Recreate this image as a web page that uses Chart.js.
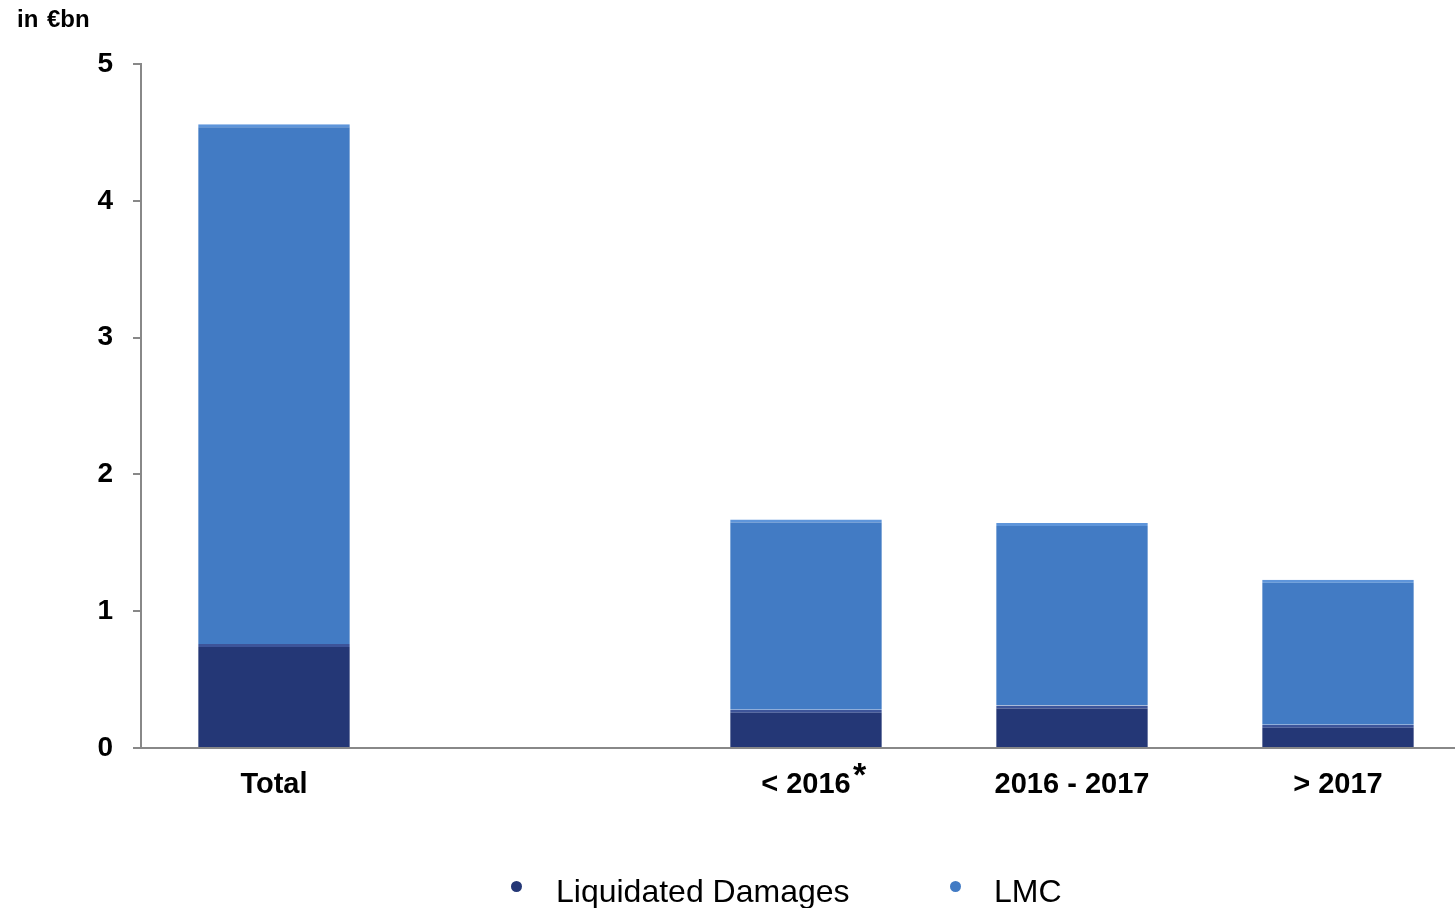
<!DOCTYPE html>
<html lang="en">
<head>
  <meta charset="UTF-8">
  <title>Liquidated Damages and LMC</title>
  <script src="https://cdn.jsdelivr.net/npm/chart.js"></script>
  <style>
    body {
      margin: 0;
      background: #ffffff;
      font-family: "Liberation Sans", Arial, sans-serif;
    }
    .wrap {
      position: relative;
      width: 1455px;
      height: 908px;
      overflow: hidden;
    }
    .unit {
      position: absolute;
      left: 17px;
      top: 7px;
      font-size: 24px;
      font-weight: bold;
      line-height: 1;
      word-spacing: 2px;
    }
    .star {
      position: absolute;
      left: 853px;
      top: 757px;
      font-size: 34px;
      font-weight: bold;
      line-height: 1;
    }
    .legend-item {
      position: absolute;
      top: 875px;
      font-size: 32px;
      line-height: 1;
      color: #000;
    }
    .dot {
      position: absolute;
      width: 11px;
      height: 11px;
      border-radius: 50%;
      top: 881px;
    }
  </style>
</head>
<body>
  <div class="wrap">
    <canvas id="chart" width="1471" height="908"></canvas>
    <div class="unit">in €bn</div>
    <div class="star">*</div>
    <span class="dot" style="left:511px;background:#243776"></span>
    <span class="legend-item" style="left:556px">Liquidated Damages</span>
    <span class="dot" style="left:950px;background:#427BC4"></span>
    <span class="legend-item" style="left:994px">LMC</span>
  </div>

  <script>
    // Data (in € bn)
    const categories = ['Total', '', '< 2016', '2016 - 2017', '> 2017'];
    const liquidatedDamages = [0.76, null, 0.28, 0.31, 0.17];
    const lmc = [3.80, null, 1.39, 1.335, 1.06];
    const yTicks = [0, 1, 2, 3, 4, 5];

    const axisColor = '#888888';
    const fontFamily = '"Liberation Sans", Arial, sans-serif';

    const ctx = document.getElementById('chart').getContext('2d');
    new Chart(ctx, {
      type: 'bar',
      data: {
        labels: categories,
        datasets: [
          {
            label: 'Liquidated Damages',
            data: liquidatedDamages,
            backgroundColor: '#243776',
            borderColor: '#3D5499',
            borderWidth: { top: 3, left: 0, right: 0, bottom: 0 },
            borderSkipped: false
          },
          {
            label: 'LMC',
            data: lmc,
            backgroundColor: '#427BC4',
            borderColor: '#5E95DA',
            borderWidth: { top: 3, left: 0, right: 0, bottom: 0 },
            borderSkipped: false
          }
        ]
      },
      options: {
        responsive: false,
        animation: false,
        devicePixelRatio: 1,
        layout: { padding: { top: 64, left: 0, right: 0, bottom: 0 } },
        plugins: {
          legend: { display: false },
          tooltip: { enabled: false }
        },
        datasets: {
          bar: { categoryPercentage: 1, barPercentage: 0.57 }
        },
        scales: {
          x: {
            stacked: true,
            grid: { display: false, drawTicks: false },
            border: { display: true, color: axisColor, width: 2 },
            ticks: {
              color: '#000',
              padding: 20,
              font: { family: fontFamily, size: 29, weight: 'bold' }
            },
            afterFit: scale => { scale.height = 160; }
          },
          y: {
            stacked: true,
            min: 0,
            max: 5,
            afterBuildTicks: scale => {
              scale.ticks = yTicks.map(v => ({ value: v }));
            },
            grid: {
              drawOnChartArea: false,
              drawTicks: true,
              tickLength: 8,
              color: axisColor,
              lineWidth: 2
            },
            border: { display: true, color: axisColor, width: 2 },
            ticks: {
              color: '#000',
              padding: 20,
              font: { family: fontFamily, size: 28, weight: 'bold' }
            },
            afterFit: scale => { scale.width = 141; }
          }
        }
      }
    });
  </script>
</body>
</html>
